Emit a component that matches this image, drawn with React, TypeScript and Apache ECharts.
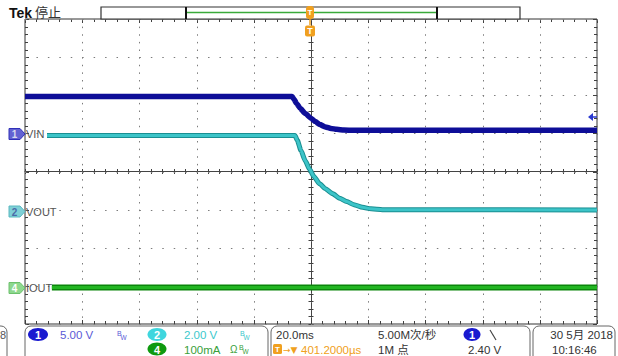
import React, { useEffect, useRef } from "react";
import * as echarts from "echarts";

// time axis in ms (20 ms/div, 10 divisions), vertical axis in screen divisions (8 div)
const xMajorTicksMs = [-100, -80, -60, -40, -20, 0, 20, 40, 60, 80, 100];
const yMajorTicksDiv = [-4, -3, -2, -1, 0, 1, 2, 3, 4];
const MINOR_PER_MAJOR = 5;

const ch1TimeMs = [-100, -6.6, -6.0, -5.0, -3.8, -2.0, 0, 1.5, 3.1, 5, 7, 9, 11.5, 15, 100];
const ch1Div = [1.97, 1.97, 1.9, 1.78, 1.66, 1.52, 1.4, 1.31, 1.23, 1.17, 1.13, 1.105, 1.09, 1.08, 1.08];

const ch2TimeMs = [-92.3, -5.6, -4.8, -3.5, -2.0, -0.5, 1, 3, 5, 7.5, 10, 12.5, 15, 18, 21, 25, 100];
const ch2Div = [0.945, 0.945, 0.82, 0.55, 0.28, 0.06, -0.13, -0.32, -0.45, -0.58, -0.7, -0.79, -0.87, -0.94, -0.98, -1.0, -1.01];

const ch4TimeMs = [-90.6, 100];
const ch4Div = [-3.04, -3.04];

const FONT = '"Liberation Sans", "Noto Sans CJK SC", sans-serif';

function pairs(xs: number[], ys: number[]) {
  return xs.map((x, i) => [x, ys[i]]);
}

// subdivide major ticks into minor ticks: [value, isMajor]
function withMinor(majors: number[]) {
  const out: number[][] = [];
  for (let i = 0; i < majors.length; i++) {
    out.push([majors[i], 1]);
    if (i < majors.length - 1) {
      const step = (majors[i + 1] - majors[i]) / MINOR_PER_MAJOR;
      for (let k = 1; k < MINOR_PER_MAJOR; k++) out.push([majors[i] + step * k, 0]);
    }
  }
  return out;
}

function txt(text: string, x: number, y: number, fill: string, size = 11.5, align = "left", weight = "normal", family = FONT) {
  return {
    type: "text",
    silent: true,
    z: 40,
    style: {
      text,
      x,
      y,
      fill,
      font: `${weight} ${size}px ${family}`,
      textAlign: align,
      align,
      textVerticalAlign: "middle",
      verticalAlign: "middle",
    },
  };
}

function chMarker(y: number, fill: string, stroke: string, num: string, numColor: string, label: string) {
  return [
    {
      type: "polygon",
      silent: true,
      z: 30,
      shape: { points: [[9, y - 5.5], [20, y - 5.5], [25, y], [20, y + 5.5], [9, y + 5.5]] },
      style: { fill, stroke, lineWidth: 1 },
    },
    txt(num, 14.5, y + 0.5, numColor, 10, "center", "bold"),
    txt(label, 26, y, "#555", 11),
  ];
}

function bw(x: number, y: number, color: string) {
  return [txt("B", x, y - 2, color, 7), txt("W", x + 3.5, y + 2, color, 6.5)];
}

const crisp = (v: number) => Math.round(v) + 0.5;
const TICK = "#404040";
const DOT = "#7c7c7c";

export default function App() {
  const ref = useRef<HTMLDivElement>(null);
  useEffect(() => {
    if (!ref.current) return;
    const chart = echarts.init(ref.current, null, { renderer: "svg" });
    const hide = { show: false };

    const xTicks = withMinor(xMajorTicksMs).map(([t, m]) => [t, 0, m]);
    const yTicks = withMinor(yMajorTicksDiv).map(([v, m]) => [0, v, m]);

    const graphic: any[] = [
      txt("Tek", 9, 12.5, "#111", 14, "left", "bold"),
      txt("停止", 35, 12.5, "#333", 13),
      // record bar
      { type: "rect", silent: true, z: 30, shape: { x: 101, y: 7, width: 419, height: 12 }, style: { fill: "#fff", stroke: "#333", lineWidth: 1.2 } },
      { type: "line", silent: true, z: 31, shape: { x1: 187, y1: 12.5, x2: 436, y2: 12.5 }, style: { stroke: "#3aaa3a", lineWidth: 1.5 } },
      { type: "line", silent: true, z: 31, shape: { x1: 186, y1: 7, x2: 186, y2: 19 }, style: { stroke: "#111", lineWidth: 2 } },
      { type: "line", silent: true, z: 31, shape: { x1: 437, y1: 7, x2: 437, y2: 19 }, style: { stroke: "#111", lineWidth: 2 } },
      // trigger position markers
      { type: "rect", silent: true, z: 32, shape: { x: 306, y: 6, width: 8, height: 13, r: 3 }, style: { fill: "#f0a020" } },
      txt("T", 310, 12.5, "#fff", 8, "center", "bold"),
      { type: "line", silent: true, z: 32, shape: { x1: 310, y1: 19, x2: 310, y2: 25 }, style: { stroke: "#f0a020", lineWidth: 1.5 } },
      { type: "rect", silent: true, z: 32, shape: { x: 305, y: 25.5, width: 10, height: 11, r: 2 }, style: { fill: "#f0a020" } },
      txt("T", 310, 31, "#fff", 9, "center", "bold"),
      // channel ground markers
      ...chMarker(134, "#6262d2", "#3030b8", "1", "#d8d8ee", "VIN"),
      ...chMarker(211.5, "#7fd0d6", "#5ab8c0", "2", "#4a6aa8", "VOUT"),
      ...chMarker(288, "#8ed88e", "#6cc06c", "4", "#ffffff", "IOUT"),
      // trigger level arrow
      { type: "polygon", silent: true, z: 32, shape: { points: [[588, 117], [593, 113], [593, 121]] }, style: { fill: "#2a3ad0" } },
      { type: "line", silent: true, z: 32, shape: { x1: 592, y1: 117, x2: 597, y2: 117 }, style: { stroke: "#2a3ad0", lineWidth: 1.5 } },
      // status boxes
      { type: "rect", silent: true, z: 30, shape: { x: -12, y: 326, width: 19, height: 40, r: 6 }, style: { fill: "none", stroke: "#666", lineWidth: 1 } },
      txt("8", 0, 335, "#555", 11),
      { type: "rect", silent: true, z: 30, shape: { x: 25, y: 326, width: 243, height: 40, r: 6 }, style: { fill: "none", stroke: "#666", lineWidth: 1 } },
      { type: "rect", silent: true, z: 30, shape: { x: 271, y: 326, width: 259, height: 40, r: 6 }, style: { fill: "none", stroke: "#666", lineWidth: 1 } },
      { type: "rect", silent: true, z: 30, shape: { x: 533, y: 326, width: 82, height: 40, r: 6 }, style: { fill: "none", stroke: "#666", lineWidth: 1 } },
      // channel 1
      { type: "ellipse", silent: true, z: 31, shape: { cx: 38, cy: 334.5, rx: 10, ry: 6.5 }, style: { fill: "#1a1ad0" } },
      txt("1", 38, 335, "#fff", 11, "center", "bold"),
      txt("5.00 V", 60, 335, "#5a5ad6", 11.5),
      ...bw(117, 335, "#5a5ad6"),
      // channel 2
      { type: "ellipse", silent: true, z: 31, shape: { cx: 157, cy: 334.5, rx: 9.5, ry: 6.5 }, style: { fill: "#3fd6de" } },
      txt("2", 157, 335, "#fff", 11, "center", "bold"),
      txt("2.00 V", 184, 335, "#3cc8cc", 11.5),
      ...bw(240, 335, "#3cc8cc"),
      // channel 4
      { type: "ellipse", silent: true, z: 31, shape: { cx: 157, cy: 349, rx: 9.5, ry: 6.5 }, style: { fill: "#0f9a0f" } },
      txt("4", 157, 349.5, "#fff", 11, "center", "bold"),
      txt("100mA", 184, 349.5, "#3aa03a", 11.5),
      txt("Ω", 230, 349.5, "#3aa03a", 10),
      ...bw(239, 349.5, "#3aa03a"),
      // timebase
      txt("20.0ms", 276, 335, "#333", 11.5),
      { type: "rect", silent: true, z: 31, shape: { x: 273, y: 344, width: 9, height: 10, r: 1.5 }, style: { fill: "#f0a020" } },
      txt("T", 277.5, 349.5, "#fff", 8, "center", "bold"),
      txt("→▼", 283, 349.5, "#f0a020", 9, "left", "normal", '"DejaVu Sans", sans-serif'),
      txt("401.2000µs", 301, 349.5, "#f0a020", 11.5),
      txt("5.00M次/秒", 378, 335, "#333", 11.5),
      txt("1M 点", 378, 349.5, "#333", 11.5),
      // trigger
      { type: "ellipse", silent: true, z: 31, shape: { cx: 472, cy: 334.5, rx: 8.5, ry: 6.5 }, style: { fill: "#1a1ad0" } },
      txt("1", 472, 335, "#fff", 11, "center", "bold"),
      { type: "line", silent: true, z: 31, shape: { x1: 490, y1: 330, x2: 496, y2: 340 }, style: { stroke: "#444", lineWidth: 1.2 } },
      txt("2.40 V", 468, 349.5, "#333", 11.5),
      // date
      txt("30 5月 2018", 613, 335, "#333", 11.5, "right"),
      txt("10:16:46", 552, 349.5, "#333", 11.5),
    ];

    const line = (x1: number, y1: number, x2: number, y2: number, stroke: string, dash?: number[]) => ({
      type: "line",
      shape: { x1, y1, x2, y2 },
      style: { stroke, lineWidth: 1, lineDash: dash },
    });

    chart.setOption({
      animation: false,
      backgroundColor: "#ffffff",
      grid: { left: 25, top: 19, width: 572, height: 305, show: true, borderColor: "#333333", borderWidth: 1, backgroundColor: "transparent" },
      xAxis: {
        type: "value", min: -100, max: 100, interval: 20,
        axisLine: { show: true, onZero: true, lineStyle: { color: "#444444", width: 1 } },
        axisTick: hide, axisLabel: hide, splitLine: hide,
      },
      yAxis: {
        type: "value", min: -4, max: 4, interval: 1,
        axisLine: { show: true, onZero: true, lineStyle: { color: "#444444", width: 1 } },
        axisTick: hide, axisLabel: hide, splitLine: hide,
      },
      series: [
        {
          type: "custom", name: "x graticule", data: xTicks, silent: true, clip: false, z: 1,
          encode: { x: 0, y: 1 },
          renderItem: (_p: any, api: any) => {
            const t = api.value(0);
            const major = api.value(2) === 1;
            const top = api.coord([t, 4]);
            const bot = api.coord([t, -4]);
            const mid = api.coord([t, 0]);
            const x = crisp(top[0]);
            const len = major ? 4 : 3;
            const children: any[] = [
              line(x, top[1], x, top[1] + len, TICK),
              line(x, bot[1], x, bot[1] - len, TICK),
              line(x, mid[1] - 2.5, x, mid[1] + 2.5, TICK),
            ];
            if (major) children.push(line(x, top[1], x, bot[1], DOT, [1.5, 6.125]));
            return { type: "group", children };
          },
        },
        {
          type: "custom", name: "y graticule", data: yTicks, silent: true, clip: false, z: 1,
          encode: { x: 0, y: 1 },
          renderItem: (_p: any, api: any) => {
            const v = api.value(1);
            const major = api.value(2) === 1;
            const left = api.coord([-100, v]);
            const right = api.coord([100, v]);
            const mid = api.coord([0, v]);
            const y = crisp(left[1]);
            const len = major ? 4 : 3;
            const children: any[] = [
              line(left[0], y, left[0] + len, y, TICK),
              line(right[0], y, right[0] - len, y, TICK),
              line(mid[0] - 2.5, y, mid[0] + 2.5, y, TICK),
            ];
            if (major) children.push(line(left[0], y, right[0], y, DOT, [1.5, 9.94]));
            return { type: "group", children };
          },
        },
        {
          type: "line", name: "IOUT edge", data: pairs(ch4TimeMs, ch4Div), showSymbol: false, symbol: "none",
          lineStyle: { color: "#0b850b", width: 6 }, z: 3, silent: true,
        },
        {
          type: "line", name: "IOUT", data: pairs(ch4TimeMs, ch4Div), showSymbol: false, symbol: "none",
          lineStyle: { color: "#22b522", width: 3 }, z: 4, silent: true,
        },
        {
          type: "line", name: "VOUT edge", data: pairs(ch2TimeMs, ch2Div), showSymbol: false, symbol: "none",
          smooth: 0.2, smoothMonotone: "x",
          lineStyle: { color: "#1a8f92", width: 5 }, z: 5, silent: true,
        },
        {
          type: "line", name: "VOUT", data: pairs(ch2TimeMs, ch2Div), showSymbol: false, symbol: "none",
          smooth: 0.2, smoothMonotone: "x",
          lineStyle: { color: "#3cc4c8", width: 3 }, z: 6, silent: true,
        },
        {
          type: "line", name: "VIN", data: pairs(ch1TimeMs, ch1Div), showSymbol: false, symbol: "none",
          smooth: 0.2, smoothMonotone: "x",
          lineStyle: { color: "#0e0e98", width: 5.5 }, z: 7, silent: true,
        },
      ],
      graphic,
    });
    return () => chart.dispose();
  }, []);
  return <div ref={ref} style={{ position: "absolute", left: 0, top: 0, width: 618, height: 356, background: "#fff" }} />;
}
